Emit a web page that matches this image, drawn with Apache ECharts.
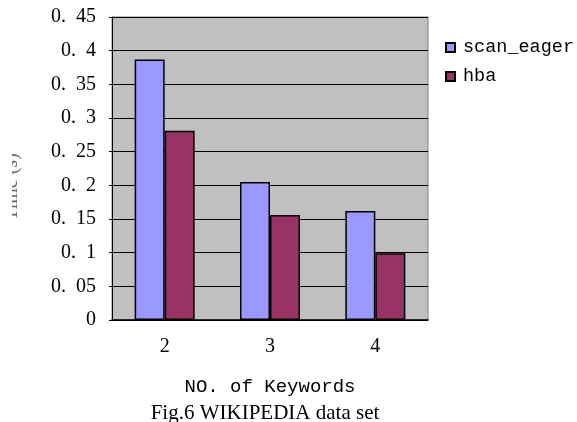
<!DOCTYPE html>
<html>
<head>
<meta charset="utf-8">
<script src="https://cdn.jsdelivr.net/npm/echarts@6/dist/echarts.min.js"></script>
<style>
  html, body { margin: 0; padding: 0; background: #fff; }
  #chart { width: 577px; height: 422px; }
</style>
</head>
<body>
<div id="chart"></div>
<script>
// Query time per keyword count on the WIKIPEDIA data set
const categories = ['2', '3', '4'];
const scanEager = [0.387, 0.205, 0.162];
const hba = [0.281, 0.156, 0.099];
const yTickLabels = ['0', '0. 05', '0. 1', '0. 15', '0. 2', '0. 25', '0. 3', '0. 35', '0. 4', '0. 45'];
const yAxisTitle = 'Time (s)';

const monoFont = 'Liberation Mono';
const serifFont = 'Liberation Serif';
const chart = echarts.init(document.getElementById('chart'), null, { renderer: 'canvas' });

chart.setOption({
  backgroundColor: '#ffffff',
  animation: false,
  title: {
    text: 'Fig.6 WIKIPEDIA data set',
    left: 260,
    textAlign: 'center',
    top: 398,
    textStyle: { fontFamily: serifFont, fontSize: 21, fontWeight: 'normal', color: '#000' }
  },
  legend: {
    orient: 'vertical',
    left: 440,
    top: 33,
    itemWidth: 9,
    itemHeight: 9,
    itemGap: 10,
    icon: 'rect',
    textStyle: { fontFamily: monoFont, fontSize: 18.5, color: '#000', padding: [0, 0, 0, 3] },
    data: ['scan_eager', 'hba']
  },
  grid: {
    left: 112,
    right: 149,
    top: 17,
    bottom: 102,
    outerBoundsMode: 'none',
    containLabel: false,
    show: true,
    backgroundColor: '#c0c0c0',
    borderColor: '#808080',
    borderWidth: 1
  },
  xAxis: {
    type: 'category',
    data: categories,
    name: 'NO. of Keywords',
    nameLocation: 'middle',
    nameGap: 57,
    nameTextStyle: { fontFamily: monoFont, fontSize: 19, color: '#000' },
    axisLine: { lineStyle: { color: '#000', width: 1.5 } },
    axisTick: { inside: true, length: 4, lineStyle: { color: '#000' } },
    axisLabel: { margin: 17, fontFamily: serifFont, fontSize: 20, color: '#000' }
  },
  yAxis: {
    type: 'value',
    min: 0,
    max: 0.45,
    interval: 0.05,
    axisLine: { show: true, lineStyle: { color: '#000', width: 1 } },
    axisTick: { show: true, length: 3, lineStyle: { color: '#000' } },
    splitLine: { lineStyle: { color: '#000', width: 1 } },
    axisLabel: {
      margin: 16,
      fontFamily: serifFont,
      fontSize: 20,
      color: '#000',
      formatter: function (v) {
        const i = Math.round(v / 0.05);
        return yTickLabels[i].replace(' ', '\u2002');
      }
    }
  },
  graphic: [
    {
      // vertical axis title, reading bottom to top
      type: 'text',
      x: 22,
      y: 187,
      rotation: Math.PI / 2,
      style: {
        text: yAxisTitle,
        fontFamily: serifFont,
        fontSize: 20,
        fill: '#666',
        align: 'center',
        verticalAlign: 'bottom'
      },
      z: 50
    },
    {
      // white band along the left page edge that hides the top of the axis title
      type: 'rect',
      left: 0,
      top: 130,
      shape: { width: 12, height: 110 },
      style: { fill: '#ffffff' },
      z: 100
    }
  ],
  series: [
    {
      name: 'scan_eager',
      type: 'bar',
      data: scanEager,
      barWidth: 30,
      barGap: '0%',
      itemStyle: { color: '#9999ff', borderColor: '#000', borderWidth: 1.5 }
    },
    {
      name: 'hba',
      type: 'bar',
      data: hba,
      barWidth: 30,
      itemStyle: { color: '#993366', borderColor: '#000', borderWidth: 1.5 }
    }
  ]
});
</script>
</body>
</html>
